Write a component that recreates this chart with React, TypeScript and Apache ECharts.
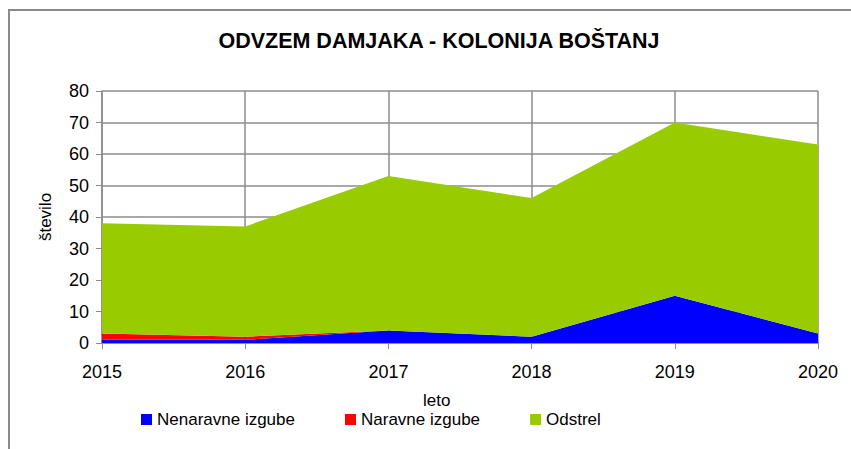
import React, { useEffect, useRef } from "react";
import * as echarts from "echarts";

const years = ["2015", "2016", "2017", "2018", "2019", "2020"];
const nenaravne = [1, 1, 4, 2, 15, 3];
const naravne = [2, 1, 0, 0, 0, 0];
const odstrel = [35, 35, 49, 44, 55, 60];

const FONT = "'Liberation Sans', Arial, sans-serif";
const GRAY = "#8c8c8c";

export default function App() {
  const ref = useRef<HTMLDivElement>(null);
  useEffect(() => {
    if (!ref.current) return;
    const chart = echarts.init(ref.current, null, { renderer: "svg" });
    const mk = (name: string, data: number[], color: string) => ({
      name,
      type: "line",
      stack: "total",
      data,
      color,
      showSymbol: false,
      symbol: "none",
      lineStyle: { width: 0 },
      areaStyle: { color, opacity: 1 },
    });
    chart.setOption({
      animation: false,
      backgroundColor: "#ffffff",
      textStyle: { fontFamily: FONT },
      title: {
        text: "ODVZEM DAMJAKA - KOLONIJA BOŠTANJ",
        left: 434,
        textAlign: "center",
        top: 25,
        textStyle: { fontFamily: FONT, fontSize: 21.5, fontWeight: "bold", color: "#000" },
      },
      grid: { left: 102, right: 33, top: 91, bottom: 106, containLabel: false },
      legend: {
        left: 141,
        top: 411,
        padding: 0,
        itemWidth: 11,
        itemHeight: 11,
        itemGap: 50,
        icon: "rect",
        textStyle: { fontFamily: FONT, fontSize: 17, color: "#000" },
        data: ["Nenaravne izgube", "Naravne izgube", "Odstrel"],
      },
      xAxis: {
        type: "category",
        data: years,
        boundaryGap: false,
        axisLine: { lineStyle: { color: GRAY, width: 1.5 } },
        axisTick: { show: true, length: 6, lineStyle: { color: GRAY } },
        axisLabel: { fontFamily: FONT, fontSize: 18, color: "#000", margin: 20 },
        splitLine: { show: true, lineStyle: { color: GRAY, width: 1.5 } },
      },
      yAxis: {
        type: "value",
        min: 0,
        max: 80,
        interval: 10,
        name: "število",
        nameLocation: "middle",
        nameGap: 48,
        nameTextStyle: { fontFamily: FONT, fontSize: 17, color: "#000" },
        axisLine: { show: true, lineStyle: { color: GRAY, width: 1.5 } },
        axisTick: { show: true, length: 6, lineStyle: { color: GRAY } },
        axisLabel: { fontFamily: FONT, fontSize: 18, color: "#000", margin: 13 },
        splitLine: { show: true, lineStyle: { color: GRAY, width: 1.5 } },
      },
      graphic: [
        {
          type: "rect",
          shape: { x: 9, y: 10, width: 900, height: 500 },
          style: { fill: "none", stroke: "#8a8a8a", lineWidth: 2 },
          silent: true,
        },
        {
          type: "text",
          left: 423,
          top: 392,
          style: { text: "leto", fontFamily: FONT, fontSize: 17, fill: "#000" },
        },
      ],
      series: [
        mk("Nenaravne izgube", nenaravne, "#0000ff"),
        mk("Naravne izgube", naravne, "#ff0000"),
        mk("Odstrel", odstrel, "#99cc00"),
      ],
    });
    return () => chart.dispose();
  }, []);
  return (
    <div
      ref={ref}
      style={{ position: "absolute", left: 0, top: 0, width: 851, height: 449 }}
    />
  );
}
